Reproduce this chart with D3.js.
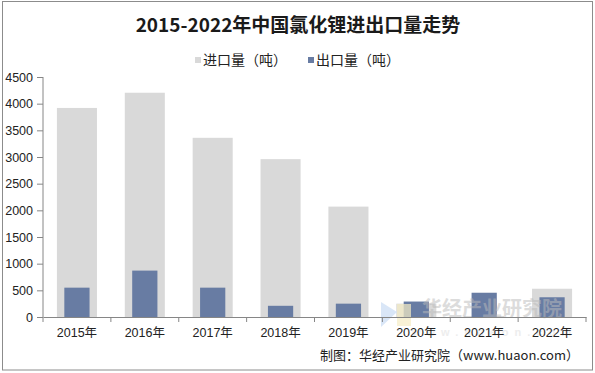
<!DOCTYPE html>
<html>
<head>
<meta charset="utf-8">
<script src="https://cdn.jsdelivr.net/npm/d3@7"></script>
<style>
  body { margin: 0; background: #fff; }
  svg { display: block; }
</style>
</head>
<body>
<div id="chart"></div>
<script>
// chart data
const years = ['2015年', '2016年', '2017年', '2018年', '2019年', '2020年', '2021年', '2022年'];
const importVals = [3920, 4205, 3360, 2960, 2070, 250, 20, 530];
const exportVals = [550, 870, 550, 210, 250, 290, 455, 370];
const yTicks = [0, 500, 1000, 1500, 2000, 2500, 3000, 3500, 4000, 4500];

const width = 595, height = 373;
const margin = { top: 77, right: 9, bottom: 56, left: 43 };

const svg = d3.select('#chart').append('svg')
    .attr('width', width)
    .attr('height', height);

// outer frame
svg.append('rect')
    .attr('x', 2.5).attr('y', 1.5)
    .attr('width', 590).attr('height', 368.5)
    .attr('fill', 'none')
    .attr('stroke', '#8c8c8c');

const x = d3.scaleBand()
    .domain(years)
    .range([margin.left, width - margin.right])
    .paddingInner(0.41)
    .paddingOuter(0.205);

const y = d3.scaleLinear()
    .domain([0, 4500])
    .range([height - margin.bottom, margin.top]);

// title
svg.append('text')
    .attr('x', 298).attr('y', 32)
    .attr('text-anchor', 'middle')
    .style('font-family', '"Noto Sans CJK SC", sans-serif')
    .style('font-weight', 'bold')
    .style('font-size', '19px')
    .style('fill', '#1a1a1a')
    .text('2015-2022年中国氯化锂进出口量走势');

// legend
const legend = [
    { label: '进口量（吨）', color: '#d9d9d9', x: 195 },
    { label: '出口量（吨）', color: '#687ca3', x: 308 }
];
const lg = svg.selectAll('g.legend').data(legend).enter().append('g')
    .attr('class', 'legend')
    .attr('transform', d => `translate(${d.x},60)`);
lg.append('rect')
    .attr('x', 0).attr('y', -3)
    .attr('width', 6).attr('height', 6)
    .attr('fill', d => d.color);
lg.append('text')
    .attr('x', 8).attr('y', 0)
    .attr('dy', '0.36em')
    .style('font-family', '"Noto Sans CJK SC", sans-serif')
    .style('font-size', '14px')
    .style('fill', '#222')
    .text(d => d.label);

// import bars
svg.append('g').selectAll('rect')
    .data(importVals)
    .enter().append('rect')
    .attr('x', (d, i) => x(years[i]))
    .attr('y', d => y(d))
    .attr('width', x.bandwidth())
    .attr('height', d => y(0) - y(d))
    .attr('fill', '#d9d9d9');

// export bars
const ew = x.bandwidth() * 0.63;
svg.append('g').selectAll('rect')
    .data(exportVals)
    .enter().append('rect')
    .attr('x', (d, i) => x(years[i]) + (x.bandwidth() - ew) / 2)
    .attr('y', d => y(d))
    .attr('width', ew)
    .attr('height', d => y(0) - y(d))
    .attr('fill', '#687ca3');

// watermark
svg.append('path')
    .attr('d', 'M381,302 L397,312 L381,327 Z')
    .attr('fill', '#cfe0f5')
    .attr('opacity', 0.8);
svg.append('rect')
    .attr('x', 397).attr('y', 304).attr('width', 14).attr('height', 22)
    .attr('fill', '#f5ecc4').attr('opacity', 0.7);
svg.append('text')
    .attr('x', 422).attr('y', 316)
    .style('font-family', '"Noto Sans CJK SC", sans-serif')
    .style('font-weight', 'bold')
    .style('font-size', '20px')
    .style('fill', '#bbb')
    .style('opacity', 0.5)
    .text('华经产业研究院');
svg.append('text')
    .attr('x', 412).attr('y', 336)
    .style('font-family', '"Liberation Sans", Arial, sans-serif')
    .style('font-weight', 'bold')
    .style('font-size', '11px')
    .style('letter-spacing', '6px')
    .style('fill', '#ddd')
    .style('opacity', 0.5)
    .text('www.huaon.com');

// y axis
const yAxis = svg.append('g')
    .attr('transform', `translate(${margin.left},0)`)
    .call(d3.axisLeft(y).tickValues(yTicks).tickFormat(d3.format('d')).tickSize(6).tickPadding(4));
yAxis.selectAll('path, line').attr('stroke', '#868686');
yAxis.selectAll('text')
    .style('font-family', '"Liberation Sans", Arial, sans-serif')
    .style('font-size', '12.5px')
    .style('fill', '#222');
yAxis.select('.domain').attr('d', `M0,${y(4500)}V${y(0)}`);

// x axis
const xAxis = svg.append('g')
    .attr('transform', `translate(0,${y(0)})`)
    .call(d3.axisBottom(x).tickSize(0).tickPadding(11));
xAxis.select('.domain').attr('stroke', '#868686');
xAxis.selectAll('text')
    .style('font-family', '"Liberation Sans", "Noto Sans CJK SC", sans-serif')
    .style('font-size', '12.5px')
    .style('fill', '#222');
// category boundary ticks
const bounds = years.map(d => x(d) - x.step() * x.paddingInner() / 2).concat([width - margin.right]);
xAxis.selectAll('line.bound')
    .data(bounds)
    .enter().append('line')
    .attr('class', 'bound')
    .attr('x1', d => d).attr('x2', d => d)
    .attr('y1', 0).attr('y2', 5)
    .attr('stroke', '#868686');

// source
svg.append('text')
    .attr('x', 579).attr('y', 360)
    .attr('text-anchor', 'end')
    .style('font-family', '"Noto Sans CJK SC", sans-serif')
    .style('font-size', '13px')
    .style('fill', '#222')
    .text('制图：华经产业研究院（www.huaon.com）');
</script>
</body>
</html>
